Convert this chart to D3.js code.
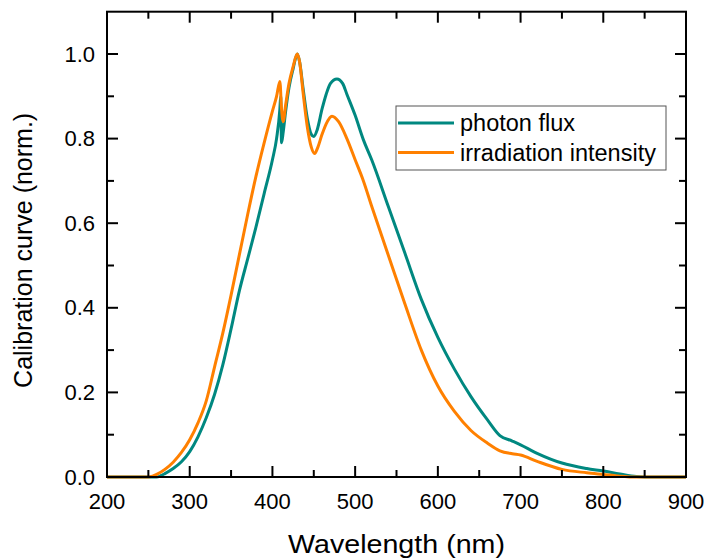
<!DOCTYPE html>
<html>
<head>
<meta charset="utf-8">
<script src="https://cdn.jsdelivr.net/npm/d3@7"></script>
<style>
body{margin:0;background:#fff;}
text{font-family:Arial,"Liberation Sans",sans-serif;fill:#000;}
</style>
</head>
<body>
<div class="let"></div>
<script>
// wavelength (nm) and normalised calibration values
let wlFlux=[200,260,265,270,280,290,300,310,320,330,340,350,360,370,380,390,400,405,409,410,411,413,416,420,425,430,433,437,442,447,450,454,460,465,470,478,485,490,500,510,520,540,560,580,600,620,640,660,675,690,700,720,750,780,800,820,840,850,900]
let photonFlux=[0,0,0.003,0.008,0.02,0.036,0.06,0.095,0.14,0.195,0.265,0.35,0.44,0.515,0.59,0.67,0.75,0.8,0.87,0.9,0.79,0.815,0.865,0.92,0.965,1.0,0.98,0.92,0.85,0.81,0.805,0.82,0.87,0.905,0.93,0.941,0.93,0.905,0.855,0.797,0.75,0.64,0.53,0.42,0.33,0.255,0.19,0.135,0.098,0.085,0.076,0.056,0.033,0.02,0.014,0.007,0.001,0,0]
let wlIrr=[200,250,255,260,270,280,290,300,310,320,330,340,350,360,370,380,390,400,405,409,411,413,416,420,425,430,433,437,442,447,451,455,460,465,472,480,490,500,510,520,540,560,580,600,620,640,660,675,690,700,720,750,780,800,820,840,900]
let irradiation=[0,0,0.002,0.006,0.018,0.035,0.058,0.088,0.128,0.18,0.26,0.34,0.43,0.525,0.62,0.71,0.79,0.865,0.9,0.935,0.87,0.84,0.88,0.93,0.97,1.0,0.98,0.91,0.83,0.78,0.765,0.78,0.81,0.835,0.853,0.84,0.8,0.75,0.7,0.64,0.525,0.41,0.3,0.215,0.155,0.11,0.08,0.062,0.055,0.052,0.037,0.018,0.01,0.006,0.002,0,0]
let seriesNames=['photon flux','irradiation intensity']
let xTicks=[200,300,400,500,600,700,800,900]
let yTicks=[0,0.2,0.4,0.6,0.8,1.0]

let w=709, h=558
let pLeft=107, pRight=686, pTop=11.7, pBottom=477
let colors=['#008880','#ff8000']

let svg=d3.select('.let').append('svg').attr('width',w).attr('height',h)
let xScale=d3.scaleLinear().domain([200,900]).range([pLeft,pRight])
let yScale=d3.scaleLinear().domain([0,1.1]).range([pBottom,pTop])

let line=d3.line().x(d=>xScale(d[0])).y(d=>yScale(d[1])).curve(d3.curveMonotoneX)
let flux=wlFlux.map((x,i)=>[x,photonFlux[i]])
let irr=wlIrr.map((x,i)=>[x,irradiation[i]])

svg.append('path').datum(flux).attr('d',line).attr('fill','none').attr('stroke',colors[0]).attr('stroke-width',3).attr('stroke-linejoin','round')
svg.append('path').datum(irr).attr('d',line).attr('fill','none').attr('stroke',colors[1]).attr('stroke-width',3).attr('stroke-linejoin','round')

// frame with inward ticks on all sides
let minorX=d3.range(250,900,100), minorY=d3.range(0.1,1.1,0.2)
function ticksX(g,y,dir){
    g.selectAll('.mj').data(xTicks).enter().append('line').attr('x1',d=>xScale(d)).attr('x2',d=>xScale(d)).attr('y1',y).attr('y2',y+dir*11).attr('stroke','#000').attr('stroke-width',2)
    g.selectAll('.mn').data(minorX).enter().append('line').attr('x1',d=>xScale(d)).attr('x2',d=>xScale(d)).attr('y1',y).attr('y2',y+dir*7).attr('stroke','#000').attr('stroke-width',2)
}
function ticksY(g,x,dir){
    g.selectAll('.mj').data(yTicks).enter().append('line').attr('y1',d=>yScale(d)).attr('y2',d=>yScale(d)).attr('x1',x).attr('x2',x+dir*11).attr('stroke','#000').attr('stroke-width',2)
    g.selectAll('.mn').data(minorY).enter().append('line').attr('y1',d=>yScale(d)).attr('y2',d=>yScale(d)).attr('x1',x).attr('x2',x+dir*7).attr('stroke','#000').attr('stroke-width',2)
}
ticksX(svg.append('g'),pBottom,-1)
ticksX(svg.append('g'),pTop,1)
ticksY(svg.append('g'),pLeft,1)
ticksY(svg.append('g'),pRight,-1)
svg.append('rect').attr('x',pLeft).attr('y',pTop).attr('width',pRight-pLeft).attr('height',pBottom-pTop).attr('fill','none').attr('stroke','#000').attr('stroke-width',2)

svg.selectAll('.xl').data(xTicks).enter().append('text').attr('x',d=>xScale(d)).attr('y',509).attr('text-anchor','middle').style('font-size','22px').text(d=>d)
svg.selectAll('.yl').data(yTicks).enter().append('text').attr('x',95).attr('y',d=>yScale(d)+7.5).attr('text-anchor','end').style('font-size','22px').text(d=>d3.format('.1f')(d))

svg.append('text').attr('x',(pLeft+pRight)/2).attr('y',553).attr('text-anchor','middle').style('font-size','26px').attr('textLength',217).attr('lengthAdjust','spacingAndGlyphs').text('Wavelength (nm)')
svg.append('text').attr('transform','translate(32,'+((pTop+pBottom)/2+6)+') rotate(-90)').attr('text-anchor','middle').style('font-size','25px').text('Calibration curve (norm.)')

// legend
let lg=svg.append('g')
lg.append('rect').attr('x',396).attr('y',106).attr('width',270).attr('height',64).attr('fill','#fff').attr('stroke','#555').attr('stroke-width',1)
seriesNames.forEach((s,i)=>{
    let y=123+i*29.5
    lg.append('line').attr('x1',398).attr('x2',454).attr('y1',y).attr('y2',y).attr('stroke',colors[i]).attr('stroke-width',3)
    lg.append('text').attr('x',460).attr('y',y+8).style('font-size','23.5px').text(s)
})
</script>
</body>
</html>
